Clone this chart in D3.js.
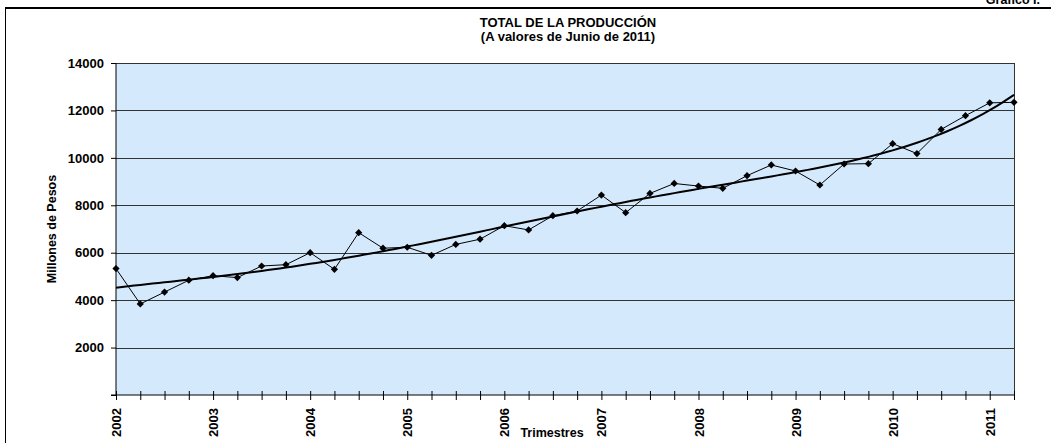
<!DOCTYPE html>
<html>
<head>
<meta charset="utf-8">
<script src="https://cdn.jsdelivr.net/npm/d3@7"></script>
<style>
  body { margin: 0; background: #fff; }
  .canvas text { font-family: "Liberation Sans", Arial, sans-serif; font-weight: bold; fill: #000; }
</style>
</head>
<body>
<div class="canvas"></div>
<script>
// quarters 2002 T1 .. 2011 T2
const years = ['2002','2003','2004','2005','2006','2007','2008','2009','2010','2011'];
const quarters = [];
years.forEach(yr => ['T1','T2','T3','T4'].forEach(q => quarters.push(yr + '-' + q)));
quarters.splice(38); // ends at 2011-T2

// total production, millones de pesos
const produccion = [
  5330, 3840, 4340, 4840, 5030, 4950, 5440, 5495,
  6000, 5300, 6845, 6190, 6230, 5890, 6350, 6570,
  7140, 6960, 7560, 7760, 8430, 7690, 8500, 8920,
  8810, 8715, 9250, 9700, 9445, 8855, 9740, 9755,
  10600, 10180, 11200, 11780, 12320, 12340
];

const yTicks = [0, 2000, 4000, 6000, 8000, 10000, 12000, 14000];

const width = 1051, height = 446;
const svg = d3.select('.canvas')
  .append('svg')
  .attr('width', width)
  .attr('height', height);

//create margins and dimensions
const margin = {top: 63, right: 37, bottom: 51, left: 116};
const graphWidth = width - margin.left - margin.right;
const graphHeight = height - margin.top - margin.bottom;

// outer frame (top and left only are visible)
svg.append('line')
  .attr('x1', 5).attr('x2', width).attr('y1', 8).attr('y2', 8)
  .attr('stroke', '#000').attr('stroke-width', 2);
svg.append('line')
  .attr('x1', 5.5).attr('x2', 5.5).attr('y1', 8).attr('y2', 443)
  .attr('stroke', '#000').attr('stroke-width', 1);

svg.append('text')
  .attr('x', 1040).attr('y', 4)
  .attr('text-anchor', 'end')
  .style('font-size', '12.5px')
  .text('Gráfico I.');

// titles
svg.append('text')
  .attr('x', 568).attr('y', 27)
  .attr('text-anchor', 'middle')
  .style('font-size', '13px')
  .text('TOTAL DE LA PRODUCCIÓN');
svg.append('text')
  .attr('x', 568).attr('y', 40.5)
  .attr('text-anchor', 'middle')
  .style('font-size', '13px')
  .text('(A valores de Junio de 2011)');

const graph = svg.append('g')
  .attr('transform', `translate(${margin.left}, ${margin.top})`);

// scales
const x = d3.scalePoint()
  .domain(quarters)
  .range([0, graphWidth]);

const y = d3.scaleLinear()
  .domain([0, 14000])
  .range([graphHeight, 0]);

// plot background
graph.append('rect')
  .attr('width', graphWidth)
  .attr('height', graphHeight)
  .attr('fill', '#d5e9fd');

// grid lines
graph.append('g')
  .selectAll('line')
  .data(yTicks.filter(d => d > 0))
  .enter().append('line')
  .attr('x1', 0).attr('x2', graphWidth)
  .attr('y1', d => Math.round(y(d)) + 0.5)
  .attr('y2', d => Math.round(y(d)) + 0.5)
  .attr('stroke', '#333')
  .attr('stroke-width', 1);

// right border of plot area
graph.append('line')
  .attr('x1', graphWidth + 0.5).attr('x2', graphWidth + 0.5)
  .attr('y1', 0).attr('y2', graphHeight)
  .attr('stroke', '#333');

// axes
const yAxis = d3.axisLeft(y)
  .tickValues(yTicks)
  .tickSize(5)
  .tickPadding(7)
  .tickFormat(d => d === 0 ? '' : d);

const xAxis = d3.axisBottom(x)
  .tickSize(5)
  .tickPadding(0)
  .tickFormat(d => d.endsWith('T1') ? d.slice(0, 4) : '');

const yAxisGroup = graph.append('g').call(yAxis);
yAxisGroup.select('.domain').attr('d', `M-5,${graphHeight}H0V0`).attr('stroke', '#000');
yAxisGroup.selectAll('text').style('font-size', '13px');

const xAxisGroup = graph.append('g')
  .attr('transform', `translate(0, ${graphHeight})`)
  .call(xAxis);
xAxisGroup.select('.domain').attr('d', `M0,0H${graphWidth}`).attr('stroke', '#000');
xAxisGroup.selectAll('.tick line').attr('y1', -4).attr('stroke', '#000');
xAxisGroup.selectAll('text')
  .style('font-size', '13px')
  .attr('transform', 'rotate(-90)')
  .attr('text-anchor', 'end')
  .attr('x', -13)
  .attr('y', 0)
  .attr('dy', '0.35em');

// axis titles
svg.append('text')
  .attr('transform', 'translate(56, 229) rotate(-90)')
  .attr('text-anchor', 'middle')
  .style('font-size', '12.5px')
  .text('Millones de Pesos');
svg.append('text')
  .attr('x', 552).attr('y', 437)
  .attr('text-anchor', 'middle')
  .style('font-size', '12.5px')
  .text('Trimestres');

// polynomial trend (least squares, order 5 like the spreadsheet trendline)
const polyFit = (ys, order) => {
  const n = ys.length;
  const xs = ys.map((d, i) => i / (n - 1));
  const m = order + 1;
  const A = [];
  for (let r = 0; r < m; r++) {
    A.push([]);
    for (let c = 0; c < m; c++) A[r].push(d3.sum(xs, xv => Math.pow(xv, r + c)));
    A[r].push(d3.sum(xs, (xv, i) => Math.pow(xv, r) * ys[i]));
  }
  for (let p = 0; p < m; p++) {
    for (let r = p + 1; r < m; r++) {
      const f = A[r][p] / A[p][p];
      for (let c = p; c <= m; c++) A[r][c] -= f * A[p][c];
    }
  }
  const coef = new Array(m).fill(0);
  for (let r = m - 1; r >= 0; r--) {
    let s = A[r][m];
    for (let c = r + 1; c < m; c++) s -= A[r][c] * coef[c];
    coef[r] = s / A[r][r];
  }
  return t => coef.reduce((acc, k, i) => acc + k * Math.pow(t, i), 0);
};
const trend = polyFit(produccion, 5);
const last = produccion.length - 1;
const trendPts = d3.range(0, last + 0.01, 0.25).map(i => [i * x.step(), y(trend(i / last))]);

// data line
graph.append('path')
  .datum(produccion)
  .attr('fill', 'none')
  .attr('stroke', '#000')
  .attr('stroke-width', 1)
  .attr('d', d3.line().x((d, i) => x(quarters[i])).y(d => y(d)));

// trend line
graph.append('path')
  .datum(trendPts)
  .attr('fill', 'none')
  .attr('stroke', '#000')
  .attr('stroke-width', 2)
  .attr('d', d3.line());

// diamond markers
graph.selectAll('.marker')
  .data(produccion)
  .enter().append('path')
  .attr('class', 'marker')
  .attr('transform', (d, i) => `translate(${x(quarters[i])}, ${y(d)})`)
  .attr('d', 'M0,-3.6L3.6,0L0,3.6L-3.6,0Z')
  .attr('fill', '#000');
</script>
</body>
</html>
